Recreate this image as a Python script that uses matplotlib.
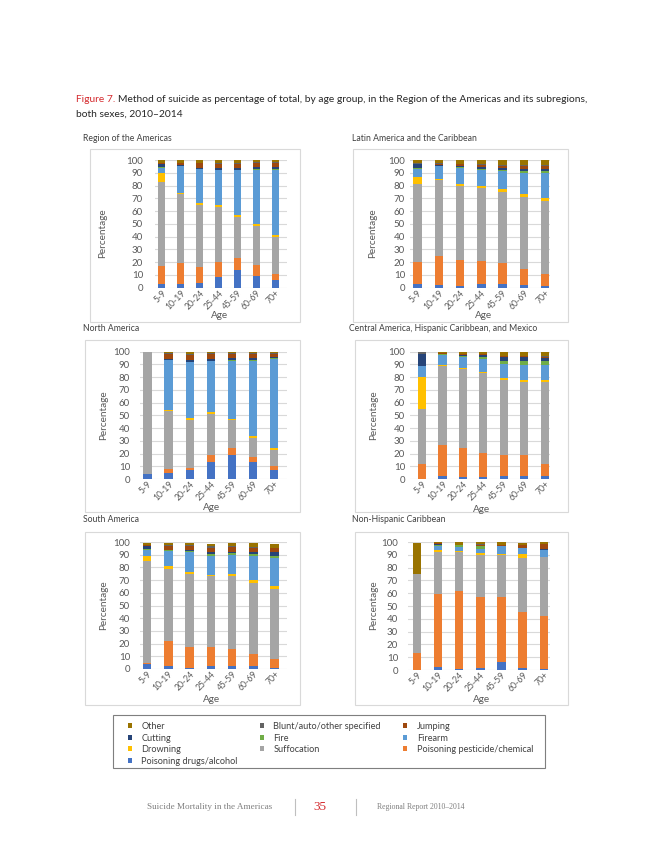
import matplotlib
matplotlib.use("Agg")
import matplotlib.pyplot as plt
from matplotlib.patches import Rectangle, Patch
import numpy as np

# ---------------- data ----------------
ages = ["5-9", "10-19", "20-24", "25-44", "45-59", "60-69", "70+"]
methods = ["Poisoning drugs/alcohol", "Poisoning pesticide/chemical", "Suffocation",
           "Drowning", "Firearm", "Fire", "Cutting", "Jumping",
           "Blunt/auto/other specified", "Other"]
colors = ["#4472C4", "#ED7D31", "#A5A5A5", "#FFC000", "#5B9BD5", "#70AD47",
          "#264478", "#9E480E", "#636363", "#997300"]

# rows follow `methods` order (bottom to top of stack), columns follow `ages`
americas = [
    [3, 3, 4, 8, 14, 9, 6],
    [14, 16, 12, 12, 9, 9, 5],
    [66, 54, 49, 43, 32, 30, 29],
    [7, 1.5, 1, 2, 2, 1.5, 1.5],
    [4, 20.5, 27, 27, 35, 43, 51],
    [0.5, 0.3, 0.3, 0.3, 0.3, 0.3, 0.3],
    [2.5, 0.5, 0.5, 1.5, 1.5, 2, 2],
    [0.5, 1.5, 3.5, 3, 3, 2.5, 2.5],
    [0.5, 0.5, 0.5, 1, 1, 1, 1],
    [2, 2, 2, 2, 2, 1.5, 1.5],
]
latin_america = [
    [3, 2, 1, 3, 3, 2, 1],
    [17, 23, 21, 18, 16, 13, 10],
    [61, 59, 58, 57, 56, 56, 57],
    [6, 1, 1, 1.5, 2, 2, 2],
    [6, 10, 13, 13, 14, 17, 20],
    [0.5, 0.5, 0.5, 0.7, 1, 1, 1],
    [3, 0.5, 0.5, 1, 1.5, 2, 2],
    [0.5, 1, 1.5, 2, 2, 2.5, 2.5],
    [0.5, 0.5, 0.5, 0.5, 0.5, 0.5, 0.5],
    [2.5, 2.5, 3, 3, 4, 4, 4],
]
north_america = [
    [4, 4.5, 7, 13, 19, 13, 7],
    [0, 3, 2, 6, 5, 4, 3],
    [96, 46, 37, 32, 22, 15, 13],
    [0, 1, 2, 1.5, 1, 2, 1.5],
    [0, 39, 44, 40, 46, 59, 70],
    [0, 0.2, 0.2, 0.2, 0.2, 0.2, 0.5],
    [0, 0.5, 1.5, 1.5, 1.5, 2, 1],
    [0, 4, 4, 4, 3.5, 3, 2.5],
    [0, 0.5, 0.5, 0.5, 0.5, 0.5, 0.5],
    [0, 1.5, 1.5, 1.5, 1.5, 1.5, 1],
]
central_america = [
    [0, 2, 1.5, 1.5, 2, 2.5, 2],
    [12, 25, 23, 19, 17, 16, 10],
    [43, 62, 62, 63, 59, 57.5, 64],
    [25, 0.5, 0.5, 0.5, 1.5, 1.5, 1.5],
    [9, 8, 9, 10, 11, 12, 12],
    [0, 0.5, 1, 2, 2.5, 3.5, 3],
    [9, 0.5, 0.5, 1.5, 2.5, 2.5, 2.5],
    [0, 0.3, 0.5, 0.5, 1, 1, 1],
    [2, 0.2, 0.3, 0.3, 0.5, 0.5, 0.5],
    [0, 1, 1.7, 1.7, 3, 3, 3.5],
]
south_america = [
    [4, 2, 1, 2, 2.5, 2, 1],
    [1, 20, 16, 15, 13, 10, 7],
    [80, 57, 58, 56, 58, 56, 55],
    [4, 2, 1.5, 1, 1, 2, 2.5],
    [5, 12, 16, 15, 15, 19, 22],
    [0.5, 0.5, 0.5, 1.5, 1.5, 1.5, 1.5],
    [2.5, 0.5, 1, 2, 1.5, 2, 3],
    [0.5, 3, 3, 3, 3.5, 3, 3],
    [0.5, 0.5, 0.5, 1, 1, 0.5, 0.5],
    [1.5, 2, 2, 2, 2.5, 3, 3],
]
non_hispanic_caribbean = [
    [0, 2, 1, 1.5, 6, 1.5, 1],
    [13, 57, 61, 55.5, 51, 44, 41],
    [62, 33, 30, 33, 33, 42, 46],
    [0, 2, 1, 1.5, 0.5, 3, 0.5],
    [0, 3, 3, 3, 6, 4.5, 5],
    [0, 1, 1.5, 2, 0.5, 0.5, 0.5],
    [0, 0.5, 0.5, 0.5, 0, 0, 0.3],
    [0, 0.5, 0, 1, 1, 2.5, 4],
    [0, 0, 0, 0.3, 0, 0, 0.2],
    [24, 1, 2, 1.7, 2, 1.5, 1.5],
]
panel_titles = ["Region of the Americas", "Latin America and the Caribbean",
                "North America", "Central America, Hispanic Caribbean, and Mexico",
                "South America", "Non-Hispanic Caribbean"]
panel_data = [americas, latin_america, north_america, central_america,
              south_america, non_hispanic_caribbean]

# ---------------- layout (pixels) ----------------
W, H = 650, 841
fig = plt.figure(figsize=(W / 100, H / 100), dpi=100)
fig.patch.set_facecolor("white")
FONT = "Lato"
TXT = "#404040"
AX_TXT = "#595959"

def fx(x):
    return x / W

def fy(y):
    return 1 - y / H

layout = [
    dict(gl=(155, 287), c=(161.7, 275.3), y=(287.7, 160), pad=12, box=(90, 149, 300, 322),
         title=(83, 143), ylab=(103, 233), xlab=(220, 316)),
    dict(gl=(410, 550), c=(417.5, 545), y=(287.7, 160), pad=5, box=(353, 149, 568, 322),
         title=(352, 143), ylab=(373, 233), xlab=(484, 316)),
    dict(gl=(140, 287), c=(147.5, 274.2), y=(479, 351.7), pad=10, box=(85, 340, 300, 512),
         title=(83, 333), ylab=(104, 415), xlab=(212, 508)),
    dict(gl=(410, 550), c=(422, 544.7), y=(479, 351.7), pad=5, box=(355, 340, 568, 512),
         title=(349, 333), ylab=(374, 415), xlab=(482, 509)),
    dict(gl=(140, 287), c=(147, 274.7), y=(669, 542), pad=10, box=(85, 532, 300, 705),
         title=(83, 524), ylab=(104, 605), xlab=(212, 699)),
    dict(gl=(408, 550), c=(417, 543.8), y=(670, 542), pad=10, box=(355, 532, 568, 705),
         title=(352, 524), ylab=(374, 605), xlab=(482, 700)),
]

for data, title, L in zip(panel_data, panel_titles, layout):
    l, t, r, b = L["box"]
    fig.add_artist(Rectangle((fx(l), fy(b)), fx(r - l), (b - t) / H, transform=fig.transFigure,
                             fill=False, edgecolor="#D9D9D9", linewidth=0.8))
    fig.text(fx(L["title"][0]), fy(L["title"][1]), title, fontsize=6.2, family=FONT,
             color=TXT, ha="left", va="bottom")

    gl0, gl1 = L["gl"]
    c0, c6 = L["c"]
    sp = (c6 - c0) / 6
    y0, y100 = L["y"]
    ax = fig.add_axes([fx(gl0), fy(y0), fx(gl1 - gl0), (y0 - y100) / H])
    ax.set_xlim((gl0 - c0) / sp, (gl1 - c0) / sp)
    ax.set_ylim(0, 100)
    x = np.arange(len(ages))
    bottom = np.zeros(len(ages))
    for vals, col, name in zip(data, colors, methods):
        v = np.array(vals, dtype=float)
        ax.bar(x, v, bottom=bottom, width=0.4, color=col, linewidth=0, zorder=3, label=name)
        bottom += v
    for s in ax.spines.values():
        s.set_visible(False)
    ax.set_yticks(np.arange(0, 101, 10))
    ax.yaxis.grid(True, color="#D9D9D9", linewidth=0.8, zorder=0)
    ax.set_axisbelow(True)
    ax.tick_params(axis="y", length=0, pad=L["pad"] / 1.389, labelsize=7, labelcolor=AX_TXT)
    ax.set_xticks(x)
    ax.set_xticklabels(ages, rotation=45, ha="right", va="top", rotation_mode="anchor",
                       fontsize=6.2, color=AX_TXT, family=FONT)
    ax.tick_params(axis="x", length=0, pad=0.5)
    for lab in ax.get_yticklabels():
        lab.set_family(FONT)
    ax.patch.set_alpha(0)
    fig.text(fx(L["ylab"][0]), fy(L["ylab"][1]), "Percentage", rotation=90, fontsize=7.2,
             family=FONT, color=AX_TXT, ha="center", va="center")
    fig.text(fx(L["xlab"][0]), fy(L["xlab"][1]), "Age", fontsize=7.2, family=FONT,
             color=AX_TXT, ha="center", va="center")

# ---------------- legend ----------------
fig.add_artist(Rectangle((fx(113), fy(768)), fx(545 - 113), (768 - 715) / H,
                         transform=fig.transFigure, fill=False, edgecolor="#7F7F7F",
                         linewidth=0.8))
handle_order = ["Other", "Cutting", "Drowning", "Poisoning drugs/alcohol",
                "Blunt/auto/other specified", "Fire", "Suffocation",
                "Jumping", "Firearm", "Poisoning pesticide/chemical"]
handles = [Patch(facecolor=colors[methods.index(n)], edgecolor="none", label=n)
           for n in handle_order]
leg = fig.legend(handles=handles, ncol=3, loc="upper left",
                 bbox_to_anchor=(fx(127.5), fy(722)), frameon=False,
                 prop={"family": FONT, "size": 6.6}, handlelength=0.5, handleheight=0.5,
                 handletextpad=1.0, columnspacing=2.4, labelspacing=0.28,
                 borderpad=0, borderaxespad=0)
for txt in leg.get_texts():
    txt.set_color(TXT)

# ---------------- figure title ----------------
renderer = fig.canvas.get_renderer()
t1 = fig.text(fx(76), fy(100), "Figure 7.", fontsize=7.4, family=FONT, color="#D42A2E",
              ha="left", va="center")
bb = t1.get_window_extent(renderer=renderer)
fig.text(bb.x1 / W + 2.5 / W, fy(100),
         "Method of suicide as percentage of total, by age group, in the Region of the Americas and its subregions,",
         fontsize=7.4, family=FONT, color="#262626", ha="left", va="center")
fig.text(fx(76), fy(114), "both sexes, 2010\u20132014", fontsize=7.4, family=FONT,
         color="#262626", ha="left", va="center")

# ---------------- footer ----------------
SERIF = "Liberation Serif"
fig.text(fx(147), fy(807), "Suicide Mortality in the Americas", fontsize=6.6, family=SERIF,
         color="#7F7F7F", ha="left", va="center")
fig.text(fx(320), fy(807), "35", fontsize=9.5, family=SERIF, color="#D42A2E",
         ha="center", va="center")
fig.text(fx(377), fy(807), "Regional Report 2010\u20132014", fontsize=5.6, family=SERIF,
         color="#7F7F7F", ha="left", va="center")
for xp in (295, 356):
    fig.add_artist(plt.Line2D([fx(xp), fx(xp)], [fy(815), fy(799)], transform=fig.transFigure,
                              color="#BFBFBF", linewidth=0.8))

fig.savefig("out.png", dpi=100, facecolor="white")
